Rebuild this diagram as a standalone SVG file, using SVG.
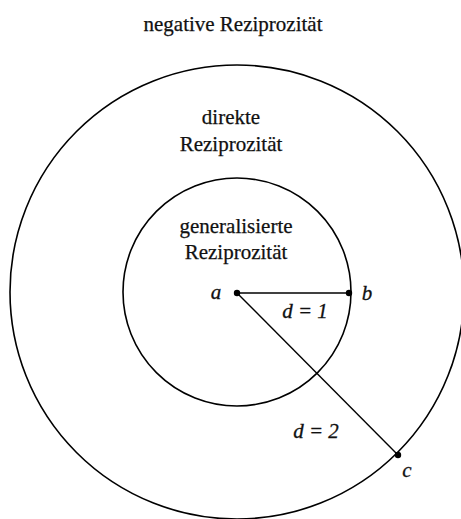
<svg xmlns="http://www.w3.org/2000/svg" width="461" height="519" viewBox="0 0 461 519">
<style>
.ring{fill:none;stroke:#000;stroke-width:1.6}
.edge{stroke:#000;stroke-width:1.4;fill:none}
.lbl{font-family:"Liberation Serif","DejaVu Serif",serif;font-size:21px;fill:#111;text-anchor:middle;stroke:#111;stroke-width:0.25}
.var{font-family:"Liberation Serif","DejaVu Serif",serif;font-style:italic;font-size:21px;fill:#111;text-anchor:middle;stroke:#111;stroke-width:0.3}
.dot{fill:#000}
</style>
<rect width="461" height="519" fill="#fff"/>
<g id="outer">
<circle class="ring" cx="237" cy="292" r="227"/>
<text class="lbl" x="233" y="31">negative Reziprozität</text>
<text class="lbl" x="231" y="124">direkte</text>
<text class="lbl" x="231" y="151">Reziprozität</text>
</g>
<g id="inner">
<circle class="ring" cx="237" cy="292" r="114"/>
<text class="lbl" x="236" y="233">generalisierte</text>
<text class="lbl" x="236" y="259">Reziprozität</text>
</g>
<g id="connectors">
<line class="edge" x1="237" y1="293" x2="349" y2="293"/>
<line class="edge" x1="237" y1="293" x2="398" y2="455"/>
<text class="var" x="305" y="318">d = 1</text>
<text class="var" x="316" y="438">d = 2</text>
</g>
<g id="a">
<circle class="dot" cx="237" cy="293" r="3.2"/>
<text class="var" x="216" y="299">a</text>
</g>
<g id="b">
<circle class="dot" cx="349" cy="293" r="3.2"/>
<text class="var" x="367" y="300">b</text>
</g>
<g id="c">
<circle class="dot" cx="398" cy="455" r="3.2"/>
<text class="var" x="407" y="477">c</text>
</g>
</svg>
